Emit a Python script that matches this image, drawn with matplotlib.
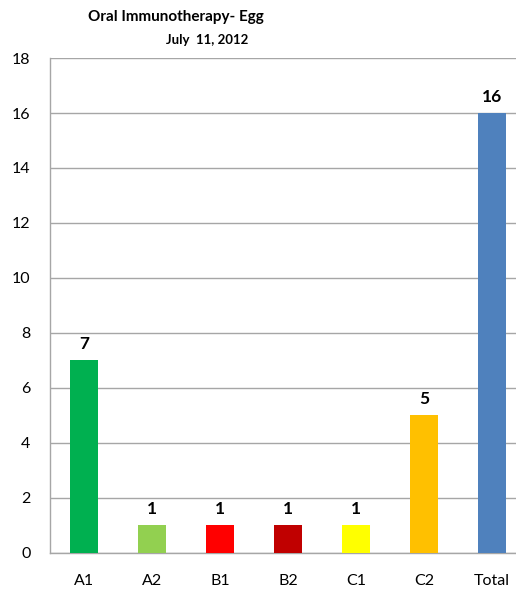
import matplotlib
matplotlib.use('Agg')
import matplotlib.pyplot as plt

plt.rcParams['font.family'] = ['Lato', 'DejaVu Sans']

groups = ['A1', 'A2', 'B1', 'B2', 'C1', 'C2', 'Total']
counts = [7, 1, 1, 1, 1, 5, 16]
colors = ['#00B050', '#92D050', '#FF0000', '#C00000', '#FFFF00', '#FFC000', '#4F81BD']

fig = plt.figure(figsize=(5.16, 5.92), dpi=100)
ax = fig.add_axes([0.097, 0.066, 0.903, 0.836])

x = list(range(len(groups)))
ax.bar(x, counts, width=0.41, color=colors, zorder=3)
for xi, v in zip(x, counts):
    ax.text(xi, v + 0.3, str(v), ha='center', va='bottom',
            fontsize=12.5, fontweight='bold', color='black')

ax.set_ylim(0, 18)
ax.set_xlim(-0.5, 6.35)
ax.set_yticks(range(0, 19, 2))
ax.set_xticks(x)
ax.set_xticklabels(groups)
ax.yaxis.grid(True, color='#A6A6A6', linewidth=1)
ax.set_axisbelow(True)
ax.tick_params(axis='both', length=0, labelsize=11.5, colors='black')
ax.tick_params(axis='x', pad=15)
ax.tick_params(axis='y', pad=14)
for side in ['top', 'right']:
    ax.spines[side].set_visible(False)
for side in ['left', 'bottom']:
    ax.spines[side].set_color('#A6A6A6')
    ax.spines[side].set_linewidth(1)

fig.text(0.34, 0.972, 'Oral Immunotherapy- Egg', ha='center', va='center',
         fontsize=11, fontweight='bold')
fig.text(0.401, 0.932, 'July  11, 2012', ha='center', va='center',
         fontsize=9.5, fontweight='bold')

fig.savefig('out.png', dpi=100)
